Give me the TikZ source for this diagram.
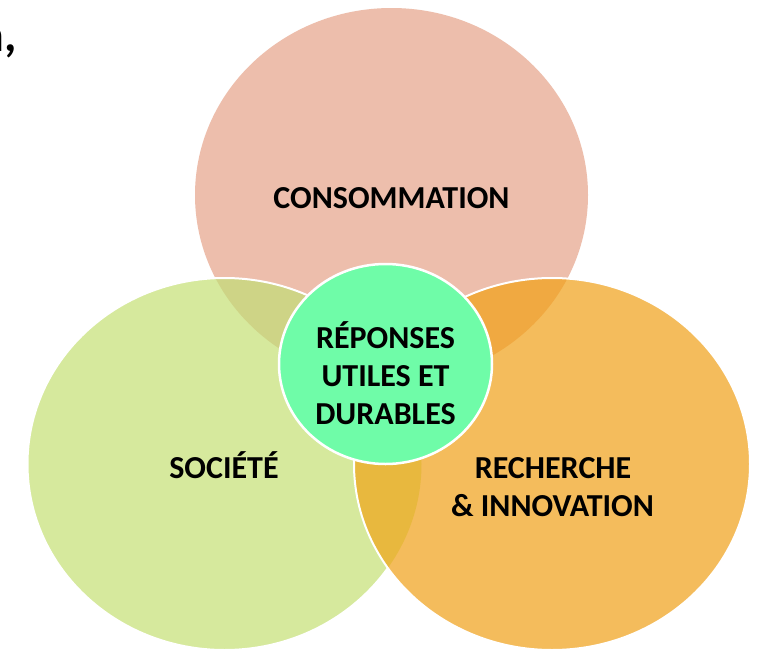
\documentclass[tikz,border=0pt]{standalone}
\usepackage{fontspec}
\setmainfont{Carlito}
\definecolor{cpink}{HTML}{EDBEAC}
\definecolor{cgreen}{HTML}{D6E99D}
\definecolor{corange}{HTML}{F4BC5C}
\definecolor{cmint}{HTML}{6FFCA8}
\definecolor{ctl}{HTML}{CED486}
\definecolor{ctr}{HTML}{F0A941}
\definecolor{clr}{HTML}{E8B83E}
\begin{document}
\begin{tikzpicture}[x=1pt,y=1pt,
  lbl/.style={font=\bfseries\fontsize{32}{38}\selectfont,align=center,text=black,inner sep=0pt},
  ring/.style={draw=white,line width=2pt}]
\useasboundingbox (0,0) rectangle (763,-648);
\fill[white] (0,0) rectangle (763,-648);
\def\topE{(391.5pt,-195pt) ellipse [x radius=196.5pt, y radius=187pt]}
\def\leftE{(224.5pt,-464pt) ellipse [x radius=197pt, y radius=186pt]}
\def\rightE{(552pt,-464pt) ellipse [x radius=198pt, y radius=186pt]}
% top circle
\fill[cpink] \topE;
% left circle
\fill[cgreen] \leftE;
\begin{scope}
  \clip \leftE;
  \fill[ctl] \topE;
\end{scope}
\draw[ring] \leftE;
% right circle
\fill[corange] \rightE;
\begin{scope}
  \clip \rightE;
  \fill[ctr] \topE;
  \fill[clr] \leftE;
\end{scope}
\draw[ring] \rightE;
% centre circle
\fill[cmint,draw=white,line width=2.5pt] (385.5,-364) ellipse [x radius=106.5pt, y radius=100pt];
% labels
\node[lbl,anchor=base] (cons) at (391.5,-208) {CONSOMMATION};
\node[lbl,anchor=base] (soc) at (224,-478) {SOCIÉTÉ};
\node[lbl,anchor=base] (rech) at (553,-478) {RECHERCHE};
\node[lbl,anchor=base] (inno) at (552.5,-516) {\& INNOVATION};
\node[lbl,anchor=base] (rep1) at (385.5,-348) {RÉPONSES};
\node[lbl,anchor=base] (rep2) at (385.5,-386) {UTILES ET};
\node[lbl,anchor=base] (rep3) at (385.5,-424) {DURABLES};
\node[font=\bfseries\fontsize{48}{50}\selectfont,anchor=base east,inner sep=0pt] (frag) at (17,-51) {n,};
\end{tikzpicture}
\end{document}
